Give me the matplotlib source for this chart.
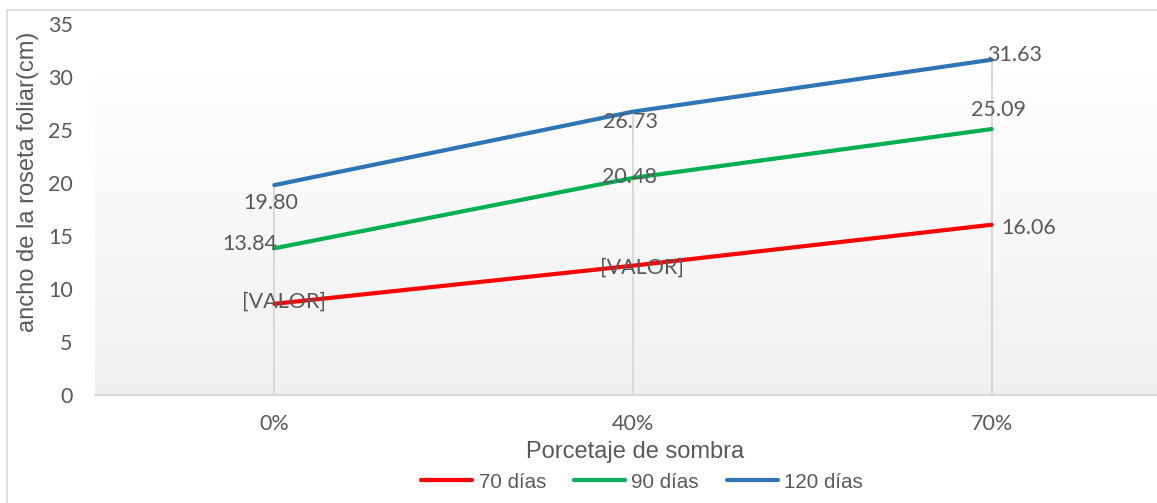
import matplotlib
matplotlib.use("Agg")
import matplotlib.pyplot as plt
import numpy as np
from matplotlib.patches import Rectangle

# Datos: ancho de la roseta foliar por porcentaje de sombra
categorias = ["0%", "40%", "70%"]
dias_70 = [8.6, 12.2, 16.06]
dias_90 = [13.84, 20.48, 25.09]
dias_120 = [19.80, 26.73, 31.63]
etiquetas_70 = ["[VALOR]", "[VALOR]", "16.06"]
etiquetas_90 = ["13.84", "20.48", "25.09"]
etiquetas_120 = ["19.80", "26.73", "31.63"]

W, H = 1157, 503
fig = plt.figure(figsize=(W / 100, H / 100), dpi=100)
fig.patch.set_facecolor("white")

# marco del grafico
fig.patches.append(Rectangle((7 / W, -0.1), 1.2, 1 - 10 / H + 0.1, transform=fig.transFigure,
                             fill=False, edgecolor="#d9d9d9", linewidth=1.2))

ax = fig.add_axes([95 / W, 1 - 395 / H, (1171 - 95) / W, (395 - 24) / H])
x = np.arange(len(categorias))
ax.set_xlim(-0.5, 2.5)
ax.set_ylim(0, 35)

# fondo degradado del area de trazado
grad = np.linspace(0.998, 0.94, 256).reshape(-1, 1)
ax.imshow(np.dstack([grad, grad, grad]), extent=[-0.5, 2.5, 0, 30.4], aspect="auto",
          zorder=0, interpolation="bicubic")

# lineas de proyeccion
tops = np.max([dias_70, dias_90, dias_120], axis=0)
ax.vlines(x, 0, tops, color="#d9d9d9", linewidth=1.5, zorder=1)

series = [
    ("70 días", dias_70, etiquetas_70, "#ff0000", [(10, 2), (9, -2), (37, -3)]),
    ("90 días", dias_90, etiquetas_90, "#00b050", [(-25, 4), (-4, 1), (7, 19)]),
    ("120 días", dias_120, etiquetas_120, "#2e75b6", [(-4, -18), (-2, -10), (23, 5)]),
]
for nombre, vals, etiq, color, offs in series:
    ax.plot(x, vals, color=color, linewidth=3, solid_capstyle="round", label=nombre, zorder=3)
    for xi, v, t, (dx, dy) in zip(x, vals, etiq, offs):
        ax.annotate(t, (xi, v), xytext=(dx, dy), textcoords="offset pixels",
                    ha="center", va="center", fontsize=15.5, color="#595959",
                    family="Lato", zorder=4)

for s in ["top", "right", "left"]:
    ax.spines[s].set_visible(False)
ax.spines["bottom"].set_color("#d9d9d9")
ax.spines["bottom"].set_linewidth(1.5)

ax.set_yticks(range(0, 36, 5))
ax.set_xticks(x)
ax.set_xticklabels(categorias)
ax.tick_params(axis="both", length=0, labelsize=15.5, labelcolor="#595959")
ax.tick_params(axis="y", pad=16)
ax.tick_params(axis="x", pad=14)
for lbl in ax.get_xticklabels() + ax.get_yticklabels():
    lbl.set_family("Lato")

fig.text(28 / W, 1 - 182 / H, "ancho de la roseta foliar(cm)", rotation=90, ha="center", va="center",
         fontsize=17, color="#595959", family="Liberation Sans")
fig.text(635 / W, 1 - 452 / H, "Porcetaje de sombra", ha="center", va="center",
         fontsize=17, color="#595959", family="Liberation Sans")

fig.legend(loc="center", bbox_to_anchor=(642 / W, 1 - 482 / H), ncol=3, frameon=False,
           prop={"family": "Liberation Sans", "size": 14.8}, labelcolor="#595959",
           handlelength=2.5, handletextpad=0.3, columnspacing=1.35)

fig.savefig("out.png", dpi=100)
